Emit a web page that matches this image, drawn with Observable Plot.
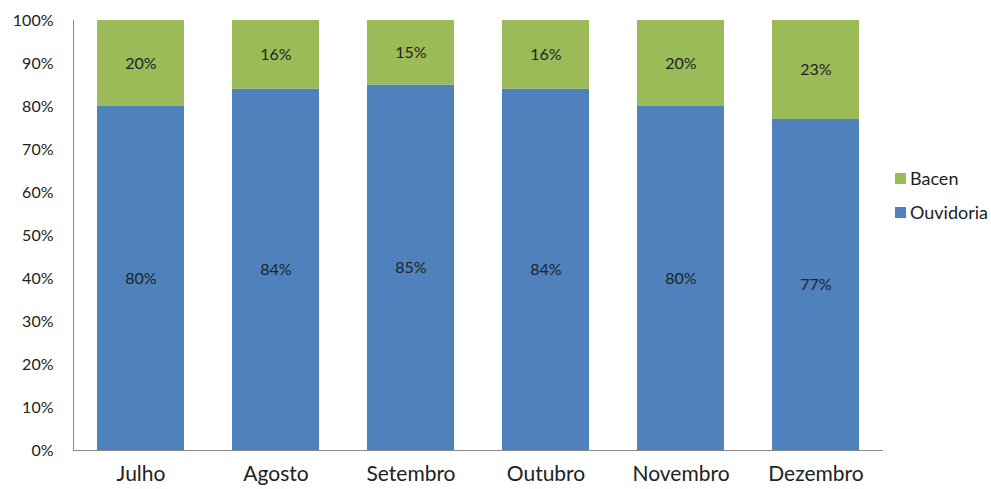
<!DOCTYPE html>
<html>
<head>
<meta charset="utf-8">
<script src="https://cdn.jsdelivr.net/npm/d3@7"></script>
<script src="https://cdn.jsdelivr.net/npm/@observablehq/plot@0.6"></script>
<style>
  html, body { margin: 0; padding: 0; background: #fff; }
  #wrap { position: relative; width: 991px; height: 489px; font-family: Lato, "Open Sans", sans-serif; overflow: hidden; }
  #legend { position: absolute; left: 895px; top: 161px; font-size: 18px; color: #222; }
  .item { display: flex; align-items: center; height: 34px; }
  .sw { width: 11px; height: 11px; margin-right: 4px; }
</style>
</head>
<body>
<div id="wrap"><div id="chart"></div><div id="legend"></div></div>
<script>
const months = ["Julho", "Agosto", "Setembro", "Outubro", "Novembro", "Dezembro"];
const series = ["Ouvidoria", "Bacen"];
const ouvidoria = [80, 84, 85, 84, 80, 77];
const bacen = [20, 16, 15, 16, 20, 23];
const colors = ["#4F81BD", "#9BBB59"];
const yTicks = [0, 10, 20, 30, 40, 50, 60, 70, 80, 90, 100];

const data = [];
months.forEach((m, i) => data.push({month: m, series: "Ouvidoria", value: ouvidoria[i]}));
months.forEach((m, i) => data.push({month: m, series: "Bacen", value: bacen[i]}));

const chart = Plot.plot({
  width: 991,
  height: 489,
  marginLeft: 73,
  marginRight: 108,
  marginTop: 20,
  marginBottom: 39,
  style: {fontFamily: "Lato, 'Open Sans', sans-serif", color: "#222", background: "#fff"},
  x: {domain: months, paddingInner: 0.355, paddingOuter: 0.1775, label: null},
  y: {domain: [0, 100], label: null},
  color: {domain: series, range: colors},
  marks: [
    Plot.barY(data, {x: "month", y: "value", fill: "series"}),
    Plot.text(data, Plot.stackY({x: "month", y: "value", z: "series", text: d => d.value + "%", fontSize: 16, fill: "#222"})),
    Plot.ruleY([0], {stroke: "#888"}),
    Plot.frame({anchor: "left", stroke: "#888"}),
    Plot.axisY({ticks: yTicks, tickFormat: d => d + "%", tickSize: 0, tickPadding: 20, fontSize: 16, label: null}),
    Plot.axisX({tickSize: 0, tickPadding: 16, fontSize: 21, label: null})
  ]
});
document.getElementById("chart").appendChild(chart);

const legend = document.getElementById("legend");
[1, 0].forEach(i => {
  const it = document.createElement("div");
  it.className = "item";
  const sw = document.createElement("div");
  sw.className = "sw";
  sw.style.background = colors[i];
  const t = document.createElement("span");
  t.textContent = series[i];
  it.appendChild(sw); it.appendChild(t);
  legend.appendChild(it);
});
</script>
</body>
</html>
